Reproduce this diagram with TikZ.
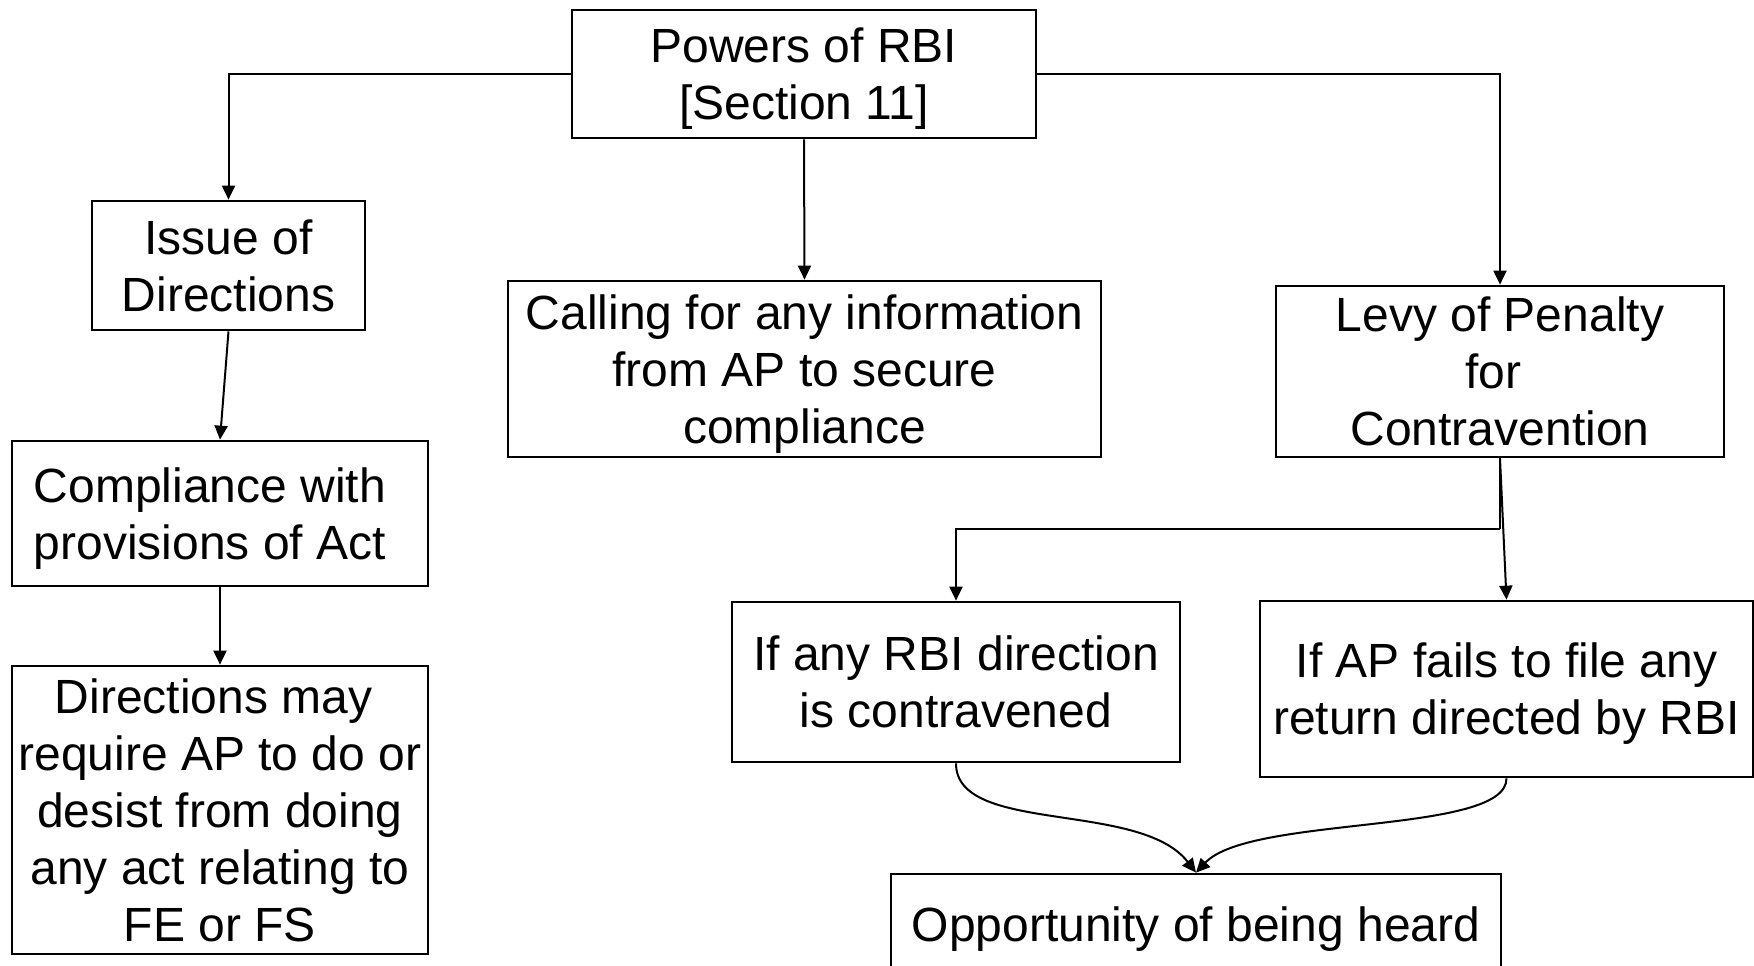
\documentclass[tikz,border=0pt]{standalone}
\usepackage{fontspec}
\setmainfont{Liberation Sans}
\usetikzlibrary{arrows.meta}
\newcommand{\trsp}{\rule{13pt}{0pt}}
\tikzset{
  box/.style={draw, line width=2.7pt, inner sep=0pt, align=center, text depth=0pt, font=\fontsize{48}{57}\selectfont},
  arr/.style={line width=2pt, -{Triangle[length=14pt,width=13pt]}},
  con/.style={line width=2pt}
}
\begin{document}
\begin{tikzpicture}[x=1pt,y=-1pt]
\useasboundingbox (0,0) rectangle (1754,966);
\node[box, minimum width=464pt, minimum height=128pt] (pw) at (804,74) {Powers of RBI\\{}{[}Section 11{]}};
\node[box, minimum width=273pt, minimum height=129pt] (iss) at (228.5,265.5) {Issue of\\Directions};
\node[box, minimum width=593pt, minimum height=176pt] (cal) at (804.5,369) {Calling for any information\\from AP to secure\\compliance};
\node[box, minimum width=448pt, minimum height=171pt] (levy) at (1500,371.5) {Levy of Penalty\\for\trsp\\Contravention};
\node[box, minimum width=416pt, minimum height=145pt, align=left] (comp) at (220,513.5) {Compliance with\rule{20pt}{0pt}\\provisions of Act\rule{20pt}{0pt}};
\node[box, minimum width=416pt, minimum height=288pt] (dir) at (220,810) {Directions may\trsp\\require AP to do or\\desist from doing\\any act relating to\\FE or FS};
\node[box, minimum width=448pt, minimum height=160pt] (ifany) at (956,682) {If any RBI direction\\is contravened};
\node[box, minimum width=493pt, minimum height=176pt] (ifap) at (1506.5,689) {If AP fails to file any\\return directed by RBI};
\node[box, minimum width=610pt, minimum height=100pt] (opp) at (1196,924) {Opportunity of being heard};
\coordinate (j) at (1500,529);
\draw[arr] (pw.west) -| (iss.north);
\draw[arr] (pw.east) -| (levy.north);
\draw[arr] (pw.south) -- (cal.north);
\draw[arr] (iss.south) -- (comp.north);
\draw[arr] (comp.south) -- (dir.north);
\draw[con] (levy.south) -- (j);
\draw[arr] (j) -| (ifany.north);
\draw[arr] (levy.south) -- (ifap.north);
\draw[arr] (ifany.south) .. controls (956,835) and (1140,800) .. (opp.north);
\draw[arr] (ifap.south) .. controls (1507,835) and (1250,815) .. (opp.north);
\end{tikzpicture}
\end{document}
